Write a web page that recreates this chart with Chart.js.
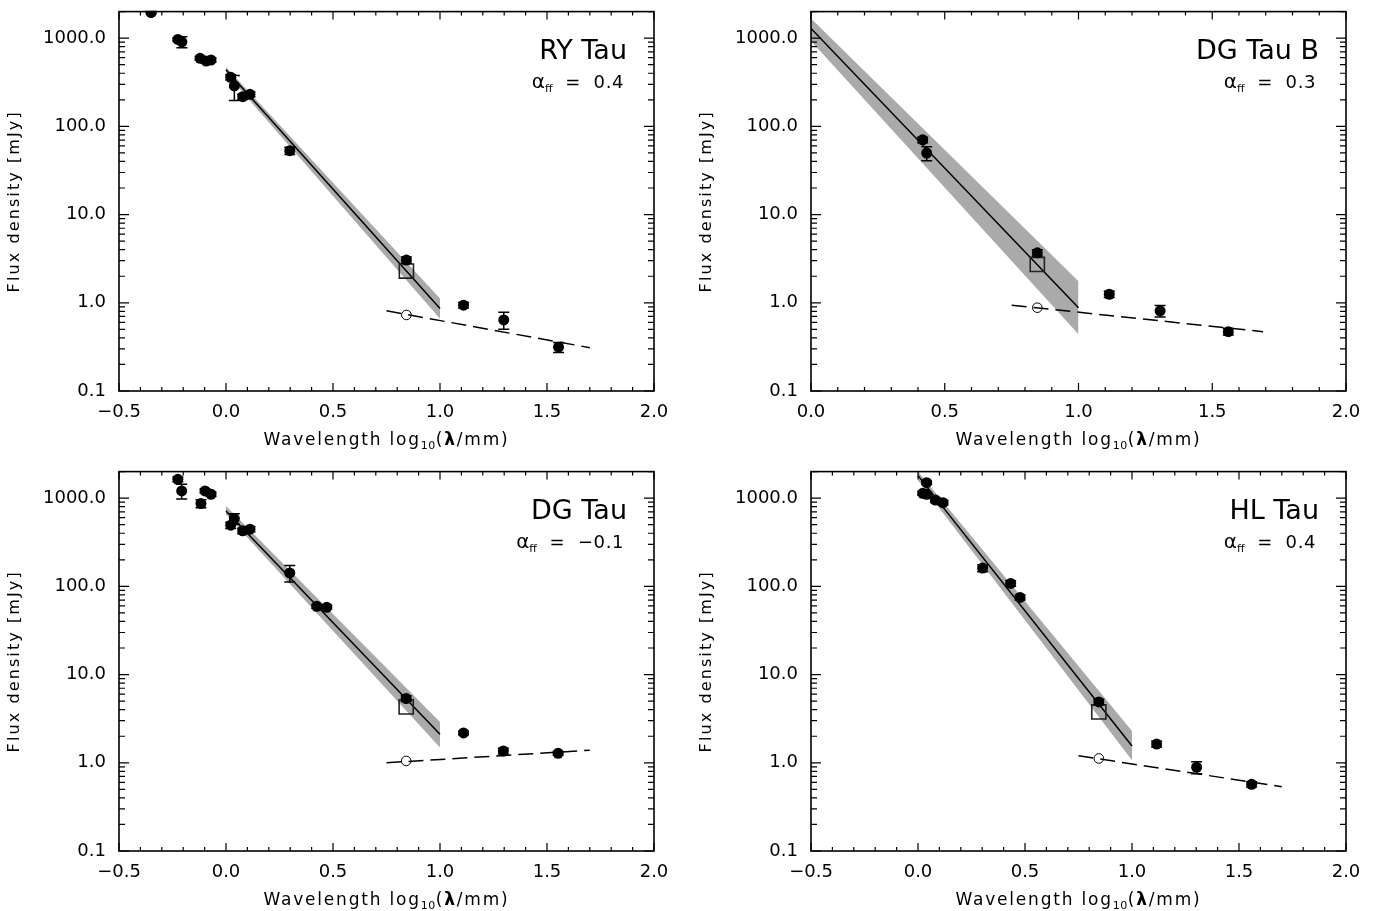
<!DOCTYPE html>
<html lang="en">
<head>
<meta charset="UTF-8" />
<title>Flux density vs wavelength</title>
<script src="https://cdn.jsdelivr.net/npm/chart.js"></script>
<style>
  html, body { margin: 0; padding: 0; background: #fff; overflow: hidden; }
  body { width: 1374px; height: 911px; position: relative; }
  canvas { position: absolute; }
</style>
</head>
<body>
<canvas id="ryTau" width="687" height="455" style="left:0;top:0"></canvas>
<canvas id="dgTauB" width="687" height="455" style="left:687px;top:0"></canvas>
<canvas id="dgTau" width="687" height="455" style="left:0;top:460px"></canvas>
<canvas id="hlTau" width="687" height="455" style="left:687px;top:460px"></canvas>
<script>
// shared axis ticks
const yTicks = [0.1, 1, 10, 100, 1000];
const xTicksWide = [-0.5, 0, 0.5, 1, 1.5, 2];
const xTicksNarrow = [0, 0.5, 1, 1.5, 2];

// RY Tau
const ryTauX = [-0.35, -0.225, -0.206, -0.121, -0.093, -0.070, 0.022, 0.039, 0.078, 0.112, 0.298, 0.843, 1.11, 1.298, 1.554];
const ryTauFlux = [1950, 967, 908, 590, 550, 564, 360, 287, 217, 231, 53, 3.05, 0.94, 0.64, 0.314];
const ryTauErr = [60, 40, 130, 30, 30, 30, 25, 90, 15, 15, 5, 0.25, 0.07, 0.14, 0.04];
const ryTauFitX = [0, 1];
const ryTauFit = [437, 0.86];
const ryTauFitHi = [470, 1.12];
const ryTauFitLo = [400, 0.66];
const ryTauFfX = [0.75, 1.7];
const ryTauFf = [0.81, 0.31];
const ryTauSquare = [0.843, 2.29];
const ryTauOpen = [0.843, 0.728];

// DG Tau B
const dgTauBX = [0.4175, 0.4325, 0.846, 1.115, 1.305, 1.56];
const dgTauBFlux = [70.4, 49.8, 3.69, 1.25, 0.81, 0.47];
const dgTauBErr = [5, 9, 0.3, 0.1, 0.12, 0.04];
const dgTauBFitX = [0, 1];
const dgTauBFit = [1288, 0.88];
const dgTauBFitHi = [1670, 1.76];
const dgTauBFitLo = [930, 0.44];
const dgTauBFfX = [0.75, 1.69];
const dgTauBFf = [0.94, 0.47];
const dgTauBSquare = [0.846, 2.72];
const dgTauBOpen = [0.846, 0.88];

// DG Tau
const dgTauX = [-0.225, -0.207, -0.117, -0.098, -0.07, 0.022, 0.039, 0.078, 0.112, 0.298, 0.424, 0.471, 0.842, 1.11, 1.296, 1.552];
const dgTauFlux = [1636, 1206, 867, 1206, 1107, 494, 587, 426, 445, 142, 59.4, 57.9, 5.34, 2.18, 1.36, 1.28];
const dgTauErr = [100, 230, 90, 60, 60, 40, 80, 30, 30, 30, 3, 3, 0.4, 0.1, 0.1, 0.06];
const dgTauFitX = [0, 1];
const dgTauFit = [716, 2.11];
const dgTauFitHi = [815, 2.9];
const dgTauFitLo = [658, 1.49];
const dgTauFfX = [0.75, 1.7];
const dgTauFf = [1.0, 1.39];
const dgTauSquare = [0.842, 4.3];
const dgTauOpen = [0.842, 1.05];

// HL Tau
const hlTauX = [0.0405, 0.022, 0.0405, 0.081, 0.117, 0.302, 0.433, 0.477, 0.845, 1.115, 1.302, 1.559];
const hlTauFlux = [1497, 1136, 1107, 953, 889, 161, 108, 75, 4.89, 1.63, 0.89, 0.57];
const hlTauErr = [60, 60, 60, 60, 50, 15, 8, 5, 0.35, 0.12, 0.14, 0.04];
const hlTauFitX = [0, 1];
const hlTauFit = [1800, 1.55];
const hlTauFitHi = [2000, 2.3];
const hlTauFitLo = [1600, 1.07];
const hlTauFfX = [0.75, 1.70];
const hlTauFf = [1.2, 0.536];
const hlTauSquare = [0.845, 3.77];
const hlTauOpen = [0.845, 1.12];

const FONT = '"DejaVu Sans"';
const pts = (xs, ys) => xs.map((x, i) => ({ x: x, y: ys[i] }));

function drawRuns(ctx, runs, x, y, align) {
  let w = 0;
  runs.forEach(r => {
    ctx.font = r.font;
    ctx.letterSpacing = r.sp || '0px';
    r.w = ctx.measureText(r.text).width;
    w += r.w;
  });
  let cx = align === 'right' ? x - w : align === 'center' ? x - w / 2 : x;
  runs.forEach(r => {
    ctx.font = r.font;
    ctx.letterSpacing = r.sp || '0px';
    ctx.fillText(r.text, cx, y + (r.dy || 0));
    cx += r.w;
  });
}

// error bars under the filled points
const errorBars = {
  id: 'errorBars',
  beforeDatasetDraw(chart, args) {
    const ds = chart.data.datasets[args.index];
    if (!ds.err) return;
    const { ctx, scales: { x, y } } = chart;
    ctx.save();
    ctx.strokeStyle = '#000';
    ctx.lineWidth = 1.5;
    ctx.beginPath();
    ds.data.forEach((p, i) => {
      const e = ds.err[i];
      if (!e) return;
      const px = x.getPixelForValue(p.x);
      const top = y.getPixelForValue(p.y + e);
      const bot = y.getPixelForValue(Math.max(p.y - e, 1e-3));
      ctx.moveTo(px, top); ctx.lineTo(px, bot);
      ctx.moveTo(px - 5.5, top); ctx.lineTo(px + 5.5, top);
      ctx.moveTo(px - 5.5, bot); ctx.lineTo(px + 5.5, bot);
    });
    ctx.stroke();
    ctx.restore();
  }
};

// IDL style box with inward ticks on all four sides
const frameTicks = {
  id: 'frameTicks',
  afterDatasetsDraw(chart) {
    const { ctx, chartArea: a, scales: { x, y } } = chart;
    ctx.save();
    ctx.strokeStyle = '#000';
    ctx.lineWidth = 1.6;
    ctx.strokeRect(a.left, a.top, a.right - a.left, a.bottom - a.top);
    ctx.lineWidth = 1.2;
    ctx.beginPath();
    for (let i = Math.round(x.min * 10); i <= Math.round(x.max * 10); i++) {
      const px = x.getPixelForValue(i / 10);
      const len = i % 5 === 0 ? 8 : 4;
      ctx.moveTo(px, a.bottom); ctx.lineTo(px, a.bottom - len);
      ctx.moveTo(px, a.top); ctx.lineTo(px, a.top + len);
    }
    for (let d = -1; d <= 3; d++) {
      for (let m = 1; m <= 9; m++) {
        const v = m * Math.pow(10, d);
        if (v < y.min || v > y.max) continue;
        const py = y.getPixelForValue(v);
        const len = m === 1 ? 10 : 6;
        ctx.moveTo(a.left, py); ctx.lineTo(a.left + len, py);
        ctx.moveTo(a.right, py); ctx.lineTo(a.right - len, py);
      }
    }
    ctx.stroke();
    ctx.restore();
  }
};

const panelText = {
  id: 'panelText',
  afterDraw(chart, args, opts) {
    const { ctx, chartArea: a } = chart;
    ctx.save();
    ctx.fillStyle = '#000';
    ctx.textAlign = 'left';
    ctx.textBaseline = 'alphabetic';
    drawRuns(ctx, [{ text: opts.name, font: '27px ' + FONT }], a.right - 27, a.top + 47, 'right');
    drawRuns(ctx, [
      { text: 'α', font: '20px ' + FONT },
      { text: 'ff', font: '11px ' + FONT, dy: 4 },
      { text: '  =  ' + opts.alpha, font: '18px ' + FONT, sp: '0.6px' }
    ], a.right - 30, a.top + 76, 'right');
    drawRuns(ctx, [
      { text: 'Wavelength log', font: '17px ' + FONT, sp: '1.8px' },
      { text: '10', font: '11px ' + FONT, dy: 4, sp: '0.5px' },
      { text: '(', font: '17px ' + FONT, sp: '1.8px' },
      { text: 'λ', font: 'bold 17px ' + FONT, sp: '1.8px' },
      { text: '/mm)', font: '17px ' + FONT, sp: '1.8px' }
    ], (a.left + a.right) / 2, a.bottom + 54, 'center');
    ctx.translate(a.left - 100, (a.top + a.bottom) / 2);
    ctx.rotate(-Math.PI / 2);
    drawRuns(ctx, [{ text: 'Flux density [mJy]', font: '16px ' + FONT, sp: '2.1px' }], 0, 0, 'center');
    ctx.restore();
  }
};

function makePanel(id, o) {
  const datasets = [
    { data: pts(o.x, o.flux), err: o.err, showLine: false, pointRadius: 5.5,
      pointBackgroundColor: '#000', pointBorderColor: '#000', pointBorderWidth: 0, clip: 0 },
    { data: pts([o.square[0]], [o.square[1]]), showLine: false, pointStyle: 'rect', pointRadius: 10,
      pointBackgroundColor: 'rgba(0,0,0,0)', pointBorderColor: '#222', pointBorderWidth: 1.6 },
    { data: pts([o.open[0]], [o.open[1]]), showLine: false, pointStyle: 'circle', pointRadius: 4.8,
      pointBackgroundColor: 'rgba(0,0,0,0)', pointBorderColor: '#000', pointBorderWidth: 1 },
    { data: pts(o.ffX, o.ff), borderColor: '#000', borderWidth: 1.5, borderDash: [15, 7], pointRadius: 0, fill: false },
    { data: pts(o.fitX, o.fit), borderColor: '#000', borderWidth: 1.5, pointRadius: 0, fill: false },
    { data: pts(o.fitX, o.fitHi), borderColor: 'rgba(0,0,0,0)', borderWidth: 0, pointRadius: 0,
      backgroundColor: '#aaaaaa', fill: '+1' },
    { data: pts(o.fitX, o.fitLo), borderColor: 'rgba(0,0,0,0)', borderWidth: 0, pointRadius: 0, fill: false }
  ];
  return new Chart(document.getElementById(id), {
    type: 'line',
    data: { datasets: datasets },
    plugins: [errorBars, frameTicks, panelText],
    options: {
      responsive: false,
      animation: false,
      events: [],
      layout: { padding: { left: 0, top: 11, right: o.padRight, bottom: 0 } },
      plugins: {
        legend: { display: false },
        tooltip: { enabled: false },
        panelText: { name: o.name, alpha: o.alpha }
      },
      scales: {
        x: {
          type: 'linear',
          min: o.xTicks[0],
          max: 2,
          grid: { display: false, drawTicks: false },
          border: { display: false },
          ticks: {
            autoSkip: false, maxRotation: 0, minRotation: 0, padding: 11, color: '#000',
            font: { family: 'DejaVu Sans', size: 18 },
            callback: v => (v < 0 ? '\u2212' : '') + Math.abs(v).toFixed(1)
          },
          afterBuildTicks: s => { s.ticks = o.xTicks.map(v => ({ value: v })); },
          afterFit: s => { s.height = 64; s.paddingLeft = 0; s.paddingRight = 0; }
        },
        y: {
          type: 'logarithmic',
          min: 0.1,
          max: 2000,
          grid: { display: false, drawTicks: false },
          border: { display: false },
          ticks: {
            autoSkip: false, padding: 13, color: '#000',
            font: { family: 'DejaVu Sans', size: 18 },
            callback: v => Number(v).toFixed(1)
          },
          afterBuildTicks: s => { s.ticks = yTicks.map(v => ({ value: v })); },
          afterFit: s => { s.width = o.yWidth; s.paddingTop = 0; s.paddingBottom = 0; }
        }
      }
    }
  });
}

makePanel('ryTau', { name: 'RY Tau', alpha: '0.4', xTicks: xTicksWide, yWidth: 119, padRight: 33,
  x: ryTauX, flux: ryTauFlux, err: ryTauErr, fitX: ryTauFitX, fit: ryTauFit, fitHi: ryTauFitHi, fitLo: ryTauFitLo,
  ffX: ryTauFfX, ff: ryTauFf, square: ryTauSquare, open: ryTauOpen });
makePanel('dgTauB', { name: 'DG Tau B', alpha: '0.3', xTicks: xTicksNarrow, yWidth: 124, padRight: 28,
  x: dgTauBX, flux: dgTauBFlux, err: dgTauBErr, fitX: dgTauBFitX, fit: dgTauBFit, fitHi: dgTauBFitHi, fitLo: dgTauBFitLo,
  ffX: dgTauBFfX, ff: dgTauBFf, square: dgTauBSquare, open: dgTauBOpen });
makePanel('dgTau', { name: 'DG Tau', alpha: '\u22120.1', xTicks: xTicksWide, yWidth: 119, padRight: 33,
  x: dgTauX, flux: dgTauFlux, err: dgTauErr, fitX: dgTauFitX, fit: dgTauFit, fitHi: dgTauFitHi, fitLo: dgTauFitLo,
  ffX: dgTauFfX, ff: dgTauFf, square: dgTauSquare, open: dgTauOpen });
makePanel('hlTau', { name: 'HL Tau', alpha: '0.4', xTicks: xTicksWide, yWidth: 124, padRight: 28,
  x: hlTauX, flux: hlTauFlux, err: hlTauErr, fitX: hlTauFitX, fit: hlTauFit, fitHi: hlTauFitHi, fitLo: hlTauFitLo,
  ffX: hlTauFfX, ff: hlTauFf, square: hlTauSquare, open: hlTauOpen });
</script>
</body>
</html>
